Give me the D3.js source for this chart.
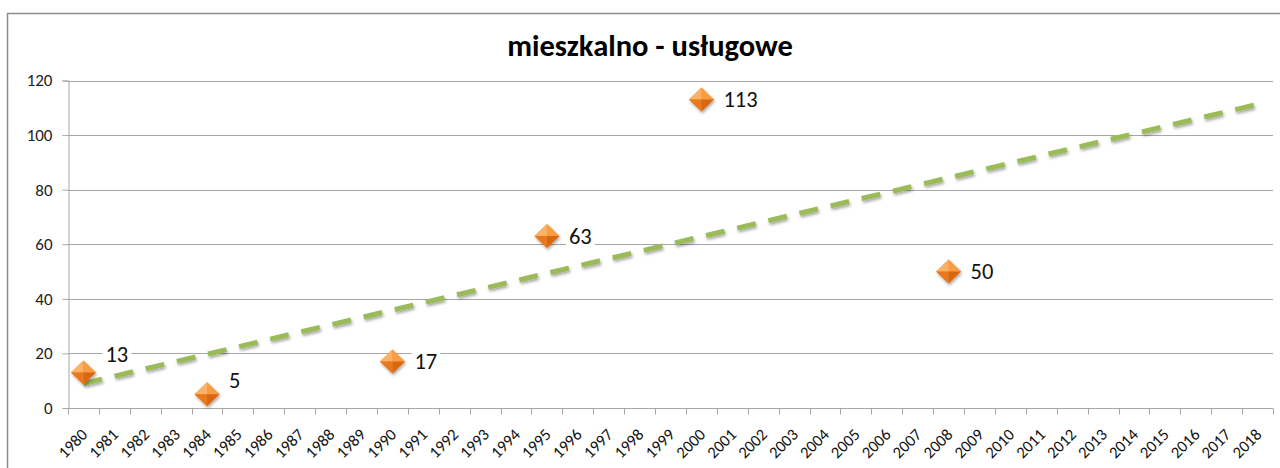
<!DOCTYPE html>
<html>
<head>
<meta charset="utf-8">
<script src="https://cdn.jsdelivr.net/npm/d3@7"></script>
<style>
  html, body { margin: 0; padding: 0; background: #fff; }
  svg { display: block; font-family: Carlito, Lato, "Liberation Sans", sans-serif; }
  .ax text { font-family: Carlito, Lato, "Liberation Sans", sans-serif; }
</style>
</head>
<body>
<svg id="chart" width="1280" height="468"></svg>
<script>
// data
var years = d3.range(1980, 2019).map(String);
var pointYears = ['1980', '1984', '1990', '1995', '2000', '2008'];
var pointValues = [13, 5, 17, 63, 113, 50];
var yTicks = [0, 20, 40, 60, 80, 100, 120];
var title = 'mieszkalno - usługowe';

var svg = d3.select('#chart');
var margin = { left: 68, right: 1273, top: 80.5, bottom: 408 };

var x = d3.scaleBand().domain(years).range([margin.left, margin.right]);
var y = d3.scaleLinear().domain([0, 120]).range([margin.bottom, margin.top]);

// shadow filter
var defs = svg.append('defs');
var sh = defs.append('filter').attr('id', 'shadow').attr('x', '-50%').attr('y', '-50%').attr('width', '200%').attr('height', '200%');
sh.append('feDropShadow').attr('dx', 1).attr('dy', 2).attr('stdDeviation', 1.5).attr('flood-color', '#000').attr('flood-opacity', 0.35);

// frame
svg.append('path')
  .attr('d', 'M7.5,468 V13.5 H1280')
  .attr('fill', 'none').attr('stroke', '#8c8c8c').attr('stroke-width', 1.5);

// title
svg.append('text')
  .attr('x', 650).attr('y', 56)
  .attr('text-anchor', 'middle')
  .attr('font-size', 30.5).attr('font-weight', 'bold')
  .attr('fill', '#000')
  .text(title);

// gridlines
svg.append('g').selectAll('line').data(yTicks.slice(1)).join('line')
  .attr('x1', margin.left).attr('x2', margin.right)
  .attr('y1', function (d) { return Math.round(y(d)) + 0.5; })
  .attr('y2', function (d) { return Math.round(y(d)) + 0.5; })
  .attr('stroke', '#a6a6a6').attr('stroke-width', 1);

// y axis
var yAxis = svg.append('g').attr('class', 'ax')
  .attr('transform', 'translate(' + (margin.left + 0.5) + ',0)')
  .call(d3.axisLeft(y).tickValues(yTicks).tickSize(6).tickPadding(10));
yAxis.attr('font-family', null).attr('font-size', 17);
yAxis.select('.domain').attr('stroke', '#a6a6a6');
yAxis.selectAll('.tick line').attr('stroke', '#a6a6a6');
yAxis.selectAll('.tick text').attr('fill', '#222');

// x axis: ticks on category boundaries
var xg = svg.append('g').attr('class', 'ax')
  .attr('transform', 'translate(0,' + (margin.bottom + 0.5) + ')')
  .attr('font-size', 16.5);
xg.append('line').attr('x1', margin.left).attr('x2', margin.right)
  .attr('stroke', '#a6a6a6');
var bounds = years.map(function (d) { return x(d); }).concat([x.range()[1]]);
xg.selectAll('line.tk').data(bounds).join('line').attr('class', 'tk')
  .attr('x1', function (d) { return Math.round(d) + 0.5; })
  .attr('x2', function (d) { return Math.round(d) + 0.5; })
  .attr('y1', 0).attr('y2', 6)
  .attr('stroke', '#a6a6a6');
xg.selectAll('text').data(years).join('text')
  .attr('transform', function (d) {
    return 'translate(' + (x(d) + x.bandwidth() / 2 + 1) + ',23) rotate(-45)';
  })
  .attr('text-anchor', 'end')
  .attr('dy', '0.35em')
  .attr('fill', '#111')
  .text(function (d) { return d; });

// trendline (linear fit on category index, like the spreadsheet does)
var idx = pointYears.map(function (d) { return years.indexOf(d) + 1; });
var mx = d3.mean(idx), my = d3.mean(pointValues);
var sxy = d3.sum(idx, function (v, i) { return (v - mx) * (pointValues[i] - my); });
var sxx = d3.sum(idx, function (v) { return (v - mx) * (v - mx); });
var slope = sxy / sxx, icpt = my - slope * mx;
var cx = function (d) { return x(d) + x.bandwidth() / 2; };
var trend = [years[0], years[years.length - 1]].map(function (d) {
  return [cx(d), y(icpt + slope * (years.indexOf(d) + 1))];
});
svg.append('path')
  .attr('d', d3.line()(trend))
  .attr('fill', 'none')
  .attr('stroke', '#9bbb59').attr('stroke-width', 5)
  .attr('stroke-dasharray', '19,13')
  .attr('filter', 'url(#shadow)');

// markers: faceted orange diamonds
var pts = pointYears.map(function (d, i) { return { year: d, value: pointValues[i] }; });
var w = 12.5, h = 12;
var mk = svg.append('g').selectAll('g').data(pts).join('g')
  .attr('transform', function (d) { return 'translate(' + cx(d.year) + ',' + y(d.value) + ')'; });
mk.append('path')
  .attr('d', 'M0,' + (-h) + 'L' + w + ',0L0,' + h + 'L' + (-w) + ',0Z')
  .attr('fill', '#f79646').attr('filter', 'url(#shadow)');
var facets = [
  ['M0,0L0,' + (-h) + 'L' + (-w) + ',0Z', '#fbb166'],
  ['M0,0L0,' + (-h) + 'L' + w + ',0Z', '#f99d45'],
  ['M0,0L' + (-w) + ',0L0,' + h + 'Z', '#e9791f'],
  ['M0,0L' + w + ',0L0,' + h + 'Z', '#d9670f']
];
facets.forEach(function (f) {
  mk.append('path').attr('d', f[0]).attr('fill', f[1]);
});

// data labels (two of them were nudged upward in the original)
var labelLift = { '1980': -18, '1984': -14 };
var lab = svg.append('g').selectAll('g').data(pts).join('g')
  .attr('transform', function (d) {
    return 'translate(' + (cx(d.year) + 22) + ',' + (y(d.value) + (labelLift[d.year] || 0)) + ')';
  });
lab.append('text')
  .attr('dy', '0.35em')
  .attr('font-size', 22.5)
  .attr('fill', '#111')
  .text(function (d) { return d.value; });
lab.each(function () {
  var g = d3.select(this), bb = g.select('text').node().getBBox();
  g.insert('rect', 'text')
    .attr('x', bb.x - 3).attr('y', bb.y).attr('width', bb.width + 6).attr('height', bb.height)
    .attr('fill', '#fff');
});
</script>
</body>
</html>
